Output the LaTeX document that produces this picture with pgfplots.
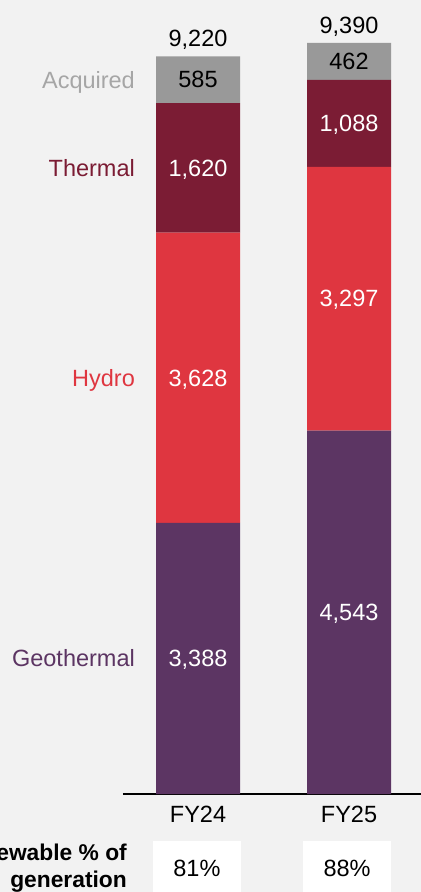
\documentclass[border=0pt]{standalone}
\usepackage{pgfplots}
\usepackage{pgfplotstable}
\pgfplotsset{compat=1.18}
\usepackage{fontspec}
\setmainfont{Liberation Sans}
\definecolor{bg}{HTML}{F2F2F2}
\definecolor{geo}{HTML}{5C3563}
\definecolor{hydro}{HTML}{DF3640}
\definecolor{therm}{HTML}{7B1C34}
\definecolor{acq}{HTML}{999999}
\definecolor{acqtxt}{HTML}{A6A6A6}
\pgfplotstableread{
x v
0 3388
1 4543
}\geo
\pgfplotstableread{
x v
0 3628
1 3297
}\hyd
\pgfplotstableread{
x v
0 1620
1 1088
}\thm
\pgfplotstableread{
x v
0 585
1 462
}\acq
\pgfplotstableread{
x t
0 9220
1 9390
}\tot
\newcommand\lbl{\fontsize{23.5bp}{28bp}\selectfont}
\pgfplotsset{geom/.style={
  at={(123bp,98bp)}, anchor=south west,
  scale only axis, width=298bp, height=792bp,
  xmin=-0.4967, xmax=1.4768, ymin=0, ymax=9900,
  clip=false,
  /pgf/number format/assume math mode=true,
  /pgf/number format/1000 sep={,},
}}
\begin{document}
\begin{tikzpicture}
\useasboundingbox (0,0) rectangle (421bp,892bp);
\fill[bg] (0,0) rectangle (421bp,892bp);
\clip (0,0) rectangle (421bp,892bp);
\begin{axis}[
  geom,
  ybar stacked, bar width=84bp,
  axis x line*=bottom, axis y line=none,
  x axis line style={-, black, line width=1.5bp},
  xtick={0,1}, xticklabels={FY24,FY25}, major tick length=0pt,
  xticklabel style={font=\lbl, inner sep=0pt, anchor=north, yshift=-12bp},
  ytick=\empty,
  nodes near coords,
  point meta=explicit,
  every node near coord/.append style={font=\lbl, anchor=center, inner sep=0pt, text depth=0pt, text=white},
]
\addplot[fill=geo, draw=none] table[x=x, y=v, meta=v] {\geo};
\addplot[fill=hydro, draw=none] table[x=x, y=v, meta=v] {\hyd};
\addplot[fill=therm, draw=none] table[x=x, y=v, meta=v] {\thm};
\addplot[fill=acq, draw=none, every node near coord/.append style={text=black}] table[x=x, y=v, meta=v] {\acq};

\node[anchor=east, inner sep=0pt, text depth=0pt, font=\lbl, text=acqtxt] at (axis cs:-0.417,8928.5) {Acquired};
\node[anchor=east, inner sep=0pt, text depth=0pt, font=\lbl, text=therm] at (axis cs:-0.417,7826) {Thermal};
\node[anchor=east, inner sep=0pt, text depth=0pt, font=\lbl, text=hydro] at (axis cs:-0.417,5202) {Hydro};
\node[anchor=east, inner sep=0pt, text depth=0pt, font=\lbl, text=geo] at (axis cs:-0.417,1694) {Geothermal};

\node[anchor=east, inner sep=0pt, align=right, font=\bfseries\fontsize{22.8bp}{27bp}\selectfont] at (axis cs:-0.470,-931) {Renewable \% of\\generation};
\node[fill=white, minimum width=88bp, minimum height=54bp, inner sep=0pt, text depth=0pt, font=\lbl] at (axis cs:-0.007,-925) {81\%};
\node[fill=white, minimum width=88bp, minimum height=54bp, inner sep=0pt, text depth=0pt, font=\lbl] at (axis cs:0.987,-925) {88\%};
\end{axis}
\begin{axis}[
  geom, hide axis,
]
\addplot[draw=none, mark=none, nodes near coords, point meta=explicit,
  every node near coord/.append style={font=\lbl, anchor=south, inner sep=0pt, text depth=0pt, yshift=9.5bp, text=black}]
  table[x=x, y=t, meta=t] {\tot};
\end{axis}
\end{tikzpicture}
\end{document}
